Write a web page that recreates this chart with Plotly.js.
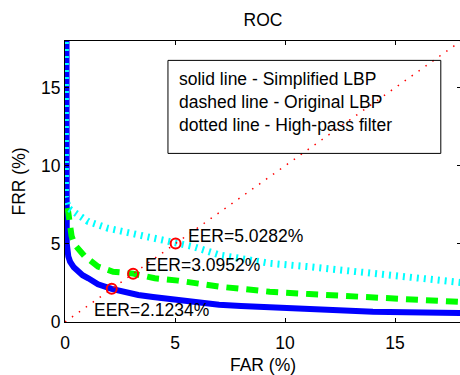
<!DOCTYPE html>
<html>
<head>
<meta charset="utf-8">
<script src="https://cdn.plot.ly/plotly-3.0.1.min.js"></script>
<style>
html,body{margin:0;padding:0;overflow:hidden;background:#fff;}
#chart{width:462px;height:375px;}
</style>
</head>
<body>
<div id="chart"></div>
<script>
// Simplified LBP (solid blue)
const blueX = [0, 0.02, 0.03, 0.08, 0.15, 0.23, 0.4, 0.6, 0.8, 1.06, 1.5, 2.12, 2.7, 3.33, 4.0, 4.6, 5.4, 6.2, 7.0, 8.0, 9.3, 10.5, 11.4, 12.5, 14, 15.5, 17, 18];
const blueY = [100, 12, 11.8, 5.0, 4.2, 3.87, 3.5, 3.22, 3.0, 2.8, 2.42, 2.12, 1.92, 1.73, 1.6, 1.5, 1.38, 1.22, 1.1, 1.03, 0.94, 0.87, 0.81, 0.76, 0.66, 0.63, 0.6, 0.57];
// Original LBP (dashed green)
const greenX = [0.12, 0.2, 0.3, 0.45, 0.91, 1.5, 2.19, 3.1, 4.08, 5.14, 6.0, 7.03, 8.2, 9.3, 11.1, 12.5, 13.8, 15.5, 17.5, 18];
const greenY = [7.3, 6.3, 5.5, 4.94, 4.19, 3.55, 3.22, 3.1, 2.8, 2.65, 2.45, 2.26, 2.1, 1.94, 1.79, 1.68, 1.56, 1.45, 1.30, 1.28];
// High-pass filter (dotted cyan)
const cyanX = [0, 0.02, 0.15, 0.45, 1.06, 1.96, 3.33, 4.08, 5.03, 5.82, 7.03, 8.2, 9.3, 11.1, 12.6, 14.1, 15.8, 17.6, 18];
const cyanY = [100, 8.0, 7.29, 6.97, 6.43, 6.0, 5.58, 5.26, 5.03, 4.83, 4.29, 4.0, 3.76, 3.54, 3.3, 3.05, 2.82, 2.58, 2.53];
// Equal-error line FAR = FRR
const diagX = [0, 18];
const diagY = [0, 18];
// EER points
const eerValues = [2.1234, 3.0952, 5.0282];
const eerLabels = ['EER=2.1234%', 'EER=3.0952%', 'EER=5.0282%'];
// Axis ticks
const tickValues = [0, 5, 10, 15];
const tickLabels = ['0', '5', '10', '15'];
// Legend text box lines
const legendLines = ['solid line - Simplified LBP', 'dashed line - Original LBP', 'dotted line - High-pass filter'];

const FONT = 'Liberation Sans, Arial, sans-serif';
const FS = 17.5;

const traces = [
  {x: blueX, y: blueY, mode: 'lines', line: {color: '#0000ff', width: 6}, hoverinfo: 'skip'},
  {x: greenX, y: greenY, mode: 'lines', line: {color: '#00ff00', width: 6, dash: '12px,8px'}, hoverinfo: 'skip'},
  {x: cyanX, y: cyanY, mode: 'lines', line: {color: '#00ffff', width: 7, dash: '2px,5px'}, hoverinfo: 'skip'},
  {x: diagX, y: diagY, mode: 'lines', line: {color: '#ff0000', width: 1.5, dash: '1.5px,7px'}, hoverinfo: 'skip'},
  {x: eerValues, y: eerValues, mode: 'markers', marker: {symbol: 'circle-open', size: 10, color: '#ff0000', line: {width: 2, color: '#ff0000'}}, hoverinfo: 'skip'}
];

const labelShift = [[-20, -21], [10, 9], [10, 8]];
const annotations = eerValues.map((v, i) => ({
  x: v, y: v, xref: 'x', yref: 'y', text: eerLabels[i], showarrow: false,
  xanchor: 'left', yanchor: 'middle',
  xshift: labelShift[i][0], yshift: labelShift[i][1],
  font: {family: FONT, size: FS, color: '#000'}
}));

const legendY = [0.865, 0.783, 0.701];
legendLines.forEach((t, i) => annotations.push({
  x: 0.282, y: legendY[i], xref: 'paper', yref: 'paper', text: t, showarrow: false,
  xanchor: 'left', yanchor: 'middle', font: {family: FONT, size: FS, color: '#000'}
}));

const axisCommon = {
  range: [0, 18], tickvals: tickValues, ticktext: tickLabels,
  ticks: 'inside', ticklen: 4, tickcolor: '#000', tickwidth: 1,
  showline: true, linecolor: '#000', linewidth: 1, mirror: 'ticks',
  showgrid: false, zeroline: false,
  tickfont: {family: FONT, size: FS, color: '#000'}, fixedrange: true
};

const layout = {
  width: 462, height: 375,
  margin: {l: 65, r: 1, t: 41, b: 53},
  paper_bgcolor: '#fff', plot_bgcolor: '#fff',
  showlegend: false,
  title: {text: 'ROC', font: {family: FONT, size: FS, color: '#000'}, x: 0.5, xref: 'paper', y: 1 - 20/375, yanchor: 'middle'},
  xaxis: Object.assign({}, axisCommon, {ticklabelstandoff: 5, title: {text: 'FAR (%)', font: {family: FONT, size: FS, color: '#000'}, standoff: 14}}),
  yaxis: Object.assign({}, axisCommon, {title: {text: 'FRR (%)', font: {family: FONT, size: FS, color: '#000'}, standoff: 10}}),
  shapes: [{type: 'rect', xref: 'paper', yref: 'paper', x0: 0.260, x1: 0.949, y0: 0.600, y1: 0.931, line: {color: '#000', width: 1}, fillcolor: 'rgba(0,0,0,0)'}],
  annotations: annotations
};

Plotly.newPlot('chart', traces, layout, {displayModeBar: false, staticPlot: true});
</script>
</body>
</html>
